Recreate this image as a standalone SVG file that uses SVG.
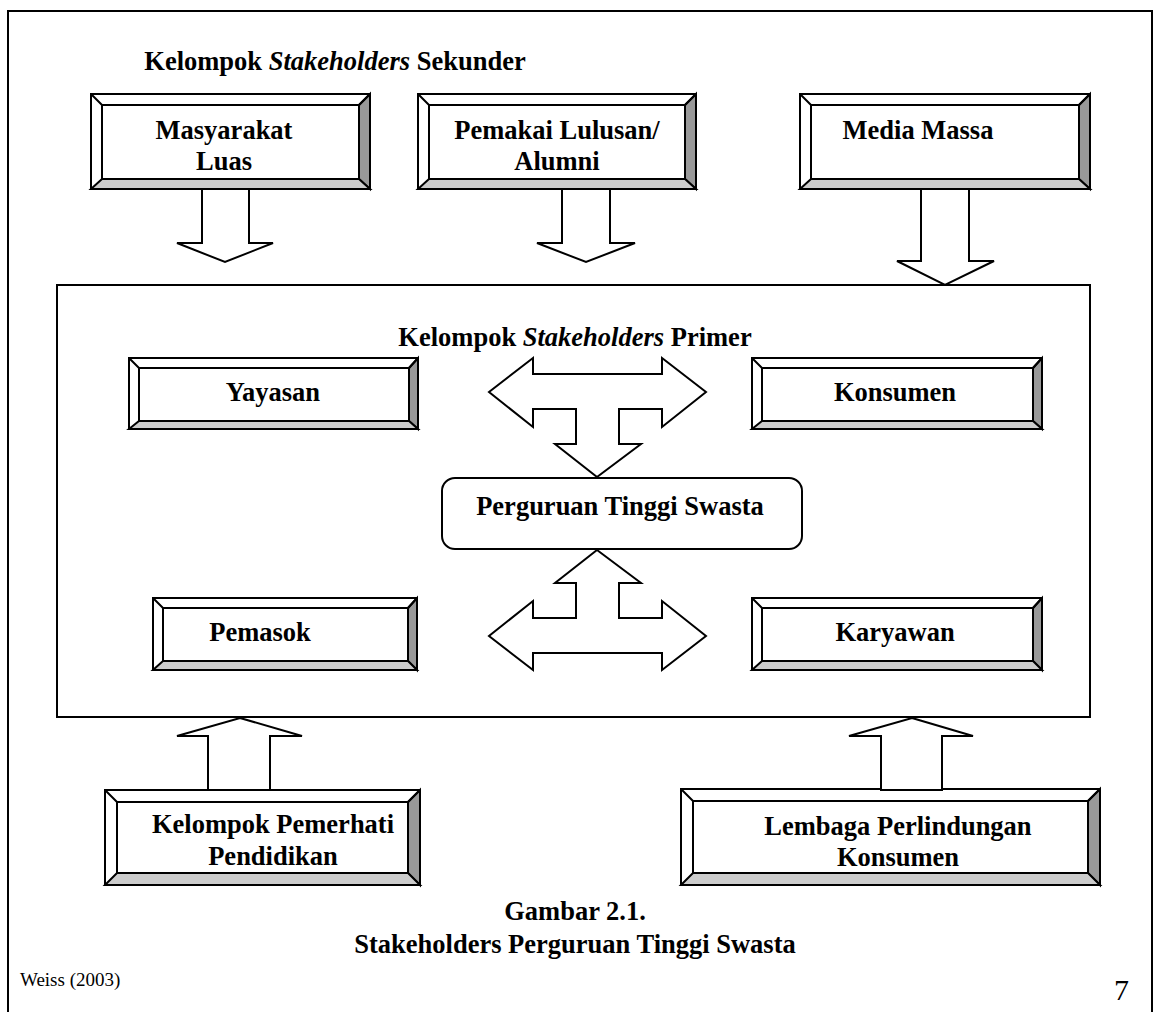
<svg xmlns="http://www.w3.org/2000/svg" width="1160" height="1012" viewBox="0 0 1160 1012">
<style>
.ln{fill:none;stroke:#000;stroke-width:2}
.w{fill:#fff;stroke:#000;stroke-width:2;stroke-linejoin:miter}
.dk{fill:#999;stroke:#000;stroke-width:2}
.lt{fill:#ccc;stroke:#000;stroke-width:2}
.ar{fill:#fff;stroke:#000;stroke-width:2;stroke-linejoin:miter}
text{font-family:"Liberation Serif","Times New Roman",serif;fill:#000}
.b{font-weight:bold;font-size:26.5px;text-anchor:middle}
</style>
<rect width="1160" height="1012" fill="#fff"/>
<path class="ln" d="M8,1020 V11 H1152 V1020"/>

<g id="primary-frame"><rect class="ln" x="57" y="285" width="1033" height="432"/></g>

<g id="title-sekunder"><text class="b" x="335" y="70">Kelompok <tspan font-style="italic">Stakeholders</tspan> Sekunder</text></g>
<g id="title-primer"><text class="b" x="575" y="346">Kelompok <tspan font-style="italic">Stakeholders</tspan> Primer</text></g>

<g id="masyarakat-luas">
<rect class="w" x="91" y="94" width="279" height="95"/>
<polygon class="dk" points="370,94 370,189 359,179 359,105"/>
<polygon class="lt" points="91,189 102,179 359,179 370,189"/>
<path class="ln" d="M91,94 L102,105 M370,94 L359,105"/>
<rect class="w" x="102" y="105" width="257" height="74"/>
<text class="b" x="224" y="139">Masyarakat</text><text class="b" x="224" y="170">Luas</text>
</g>
<g id="pemakai-lulusan">
<rect class="w" x="418" y="94" width="278" height="95"/>
<polygon class="dk" points="696,94 696,189 685,179 685,105"/>
<polygon class="lt" points="418,189 429,179 685,179 696,189"/>
<path class="ln" d="M418,94 L429,105 M696,94 L685,105"/>
<rect class="w" x="429" y="105" width="256" height="74"/>
<text class="b" x="557" y="139">Pemakai Lulusan/</text><text class="b" x="557" y="170">Alumni</text>
</g>
<g id="media-massa">
<rect class="w" x="800" y="94" width="290" height="95"/>
<polygon class="dk" points="1090,94 1090,189 1079,179 1079,105"/>
<polygon class="lt" points="800,189 811,179 1079,179 1090,189"/>
<path class="ln" d="M800,94 L811,105 M1090,94 L1079,105"/>
<rect class="w" x="811" y="105" width="268" height="74"/>
<text class="b" x="918" y="139">Media Massa</text>
</g>

<g id="yayasan">
<rect class="w" x="129" y="358" width="289" height="71"/>
<polygon class="dk" points="418,358 418,429 409,421 409,368"/>
<polygon class="lt" points="129,429 139,421 409,421 418,429"/>
<path class="ln" d="M129,358 L139,368 M418,358 L409,368"/>
<rect class="w" x="139" y="368" width="270" height="53"/>
<text class="b" x="273" y="401">Yayasan</text>
</g>
<g id="konsumen">
<rect class="w" x="752" y="358" width="290" height="71"/>
<polygon class="dk" points="1042,358 1042,429 1033,421 1033,368"/>
<polygon class="lt" points="752,429 762,421 1033,421 1042,429"/>
<path class="ln" d="M752,358 L762,368 M1042,358 L1033,368"/>
<rect class="w" x="762" y="368" width="271" height="53"/>
<text class="b" x="895" y="401">Konsumen</text>
</g>
<g id="pts">
<rect class="w" x="442" y="478" width="360" height="71" rx="13"/>
<text class="b" x="620" y="515">Perguruan Tinggi Swasta</text>
</g>
<g id="pemasok">
<rect class="w" x="153" y="598" width="264" height="72"/>
<polygon class="dk" points="417,598 417,670 408,661 408,608"/>
<polygon class="lt" points="153,670 163,661 408,661 417,670"/>
<path class="ln" d="M153,598 L163,608 M417,598 L408,608"/>
<rect class="w" x="163" y="608" width="245" height="53"/>
<text class="b" x="260" y="641">Pemasok</text>
</g>
<g id="karyawan">
<rect class="w" x="752" y="598" width="290" height="72"/>
<polygon class="dk" points="1042,598 1042,670 1033,661 1033,608"/>
<polygon class="lt" points="752,670 762,661 1033,661 1042,670"/>
<path class="ln" d="M752,598 L762,608 M1042,598 L1033,608"/>
<rect class="w" x="762" y="608" width="271" height="53"/>
<text class="b" x="895" y="641">Karyawan</text>
</g>

<g id="kelompok-pemerhati">
<rect class="w" x="105" y="790" width="315" height="95"/>
<polygon class="dk" points="420,790 420,885 408,873 408,802"/>
<polygon class="lt" points="105,885 117,873 408,873 420,885"/>
<path class="ln" d="M105,790 L117,802 M420,790 L408,802"/>
<rect class="w" x="117" y="802" width="291" height="71"/>
<text class="b" x="273" y="833">Kelompok Pemerhati</text><text class="b" x="273" y="865">Pendidikan</text>
</g>
<g id="lembaga">
<rect class="w" x="681" y="789" width="419" height="96"/>
<polygon class="dk" points="1100,789 1100,885 1088,873 1088,801"/>
<polygon class="lt" points="681,885 693,873 1088,873 1100,885"/>
<path class="ln" d="M681,789 L693,801 M1100,789 L1088,801"/>
<rect class="w" x="693" y="801" width="395" height="72"/>
<text class="b" x="898" y="835">Lembaga Perlindungan</text><text class="b" x="898" y="866">Konsumen</text>
</g>

<g id="connectors">
<polygon class="ar" points="202,189 249,189 249,243 273,243 225,262 177,243 202,243"/>
<polygon class="ar" points="562,189 610,189 610,243 635,243 586,262 537,243 562,243"/>
<polygon class="ar" points="921,189 969,189 969,261 994,261 945,285 897,261 921,261"/>
<polygon class="ar" points="489,392 533,358 533,374 662,374 662,358 706,392 662,427 662,409 619,409 619,444 641,444 597,477 555,444 576,444 576,409 533,409 533,427"/>
<polygon class="ar" points="597,550 641,583 619,583 619,618 662,618 662,601 706,636 662,670 662,653 533,653 533,670 489,636 533,601 533,618 576,618 576,583 555,583"/>
<polygon class="ar" points="240,718 302,736 270,736 270,790 208,790 208,736 177,736"/>
<polygon class="ar" points="912,718 973,736 942,736 942,790 881,790 881,736 849,736"/>
</g>

<g id="caption">
<text class="b" x="575" y="920">Gambar 2.1.</text>
<text class="b" x="575" y="953">Stakeholders Perguruan Tinggi Swasta</text>
</g>
<text x="20" y="986" font-size="19">Weiss (2003)</text>
<text x="1114" y="1000" font-size="30">7</text>
</svg>
